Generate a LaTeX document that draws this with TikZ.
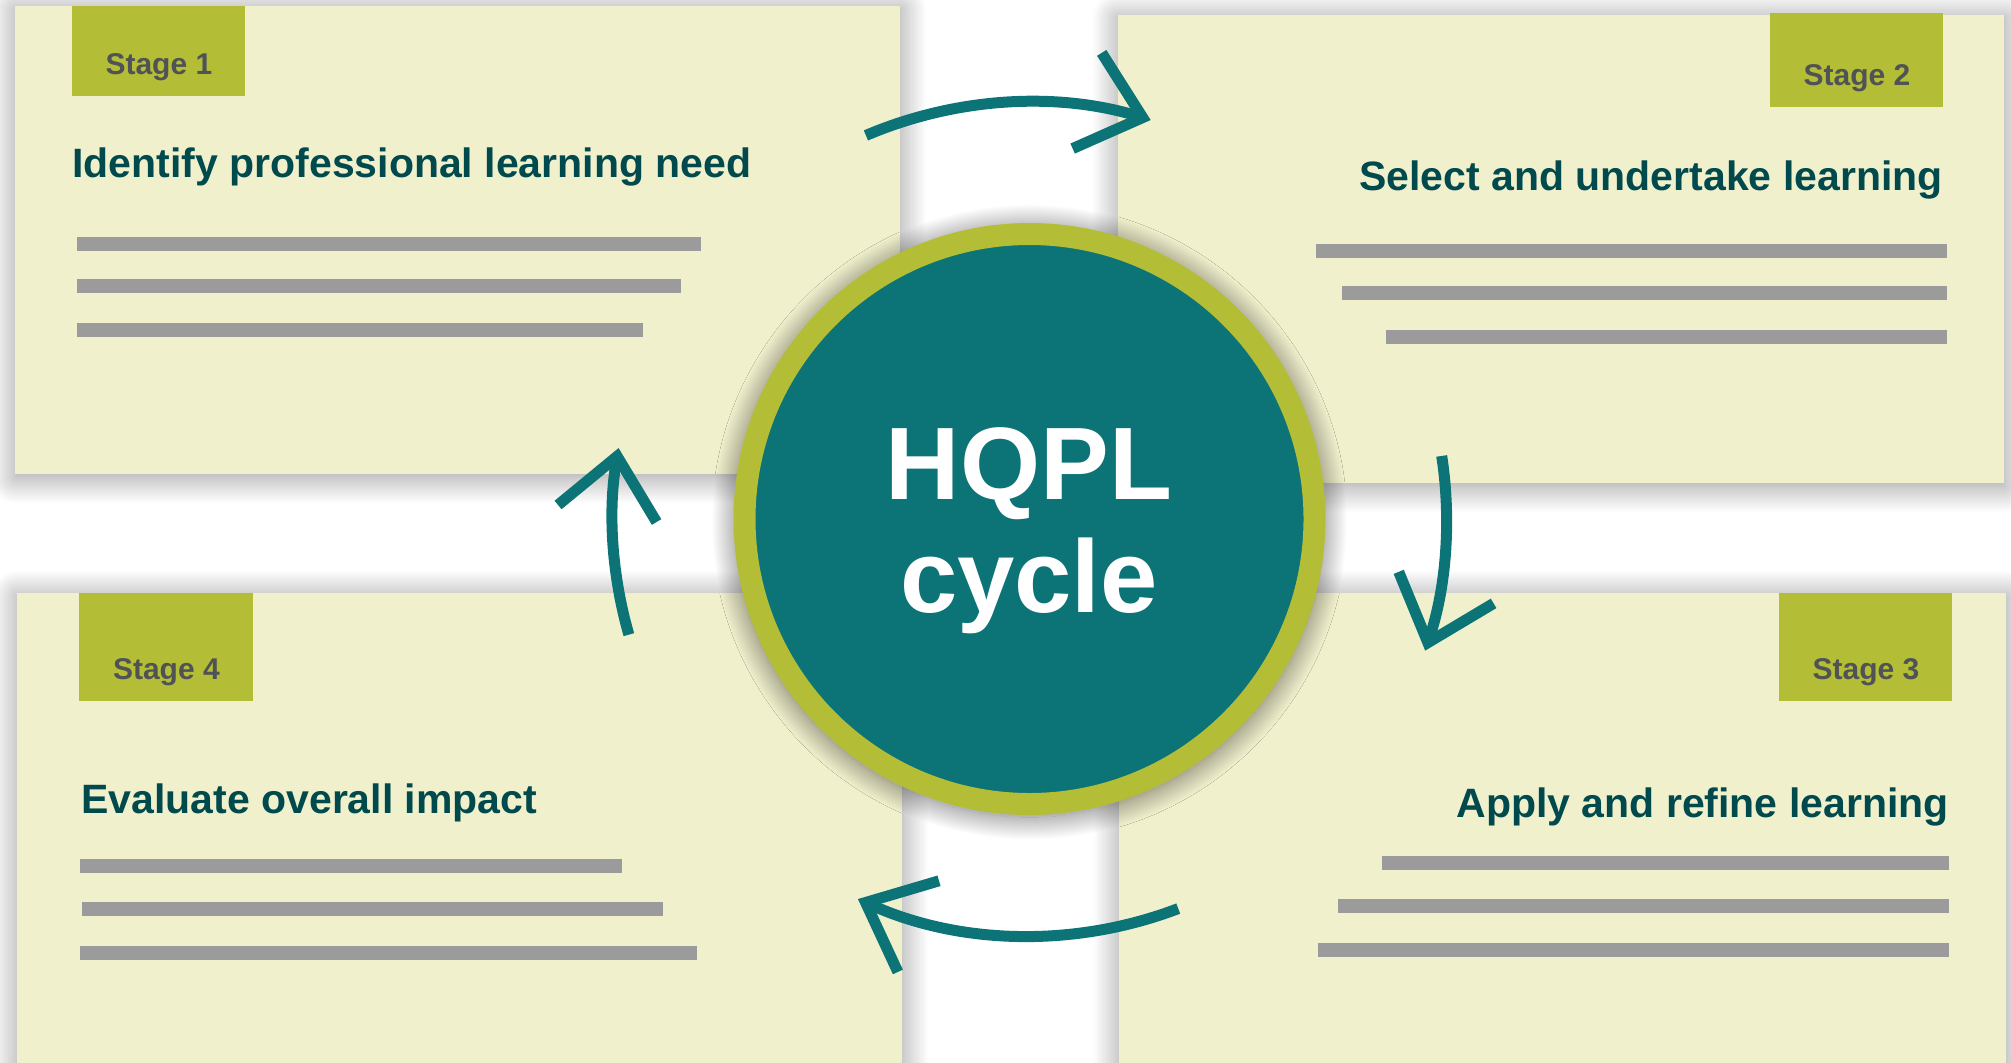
\documentclass[tikz,border=0pt]{standalone}
\usepackage{fontspec}
\setmainfont{Liberation Sans}
\usetikzlibrary{arrows.meta, shadows.blur}

\definecolor{hqcream}{HTML}{F1F0CD}
\definecolor{hqgreen}{HTML}{B3BE36}
\definecolor{hqteal}{HTML}{0C7477}
\definecolor{hqtitle}{HTML}{004A4E}
\definecolor{hqbar}{HTML}{9B9B9B}
\definecolor{hqgray}{HTML}{505256}

\tikzset{
  stagebox/.style={fill=hqcream, inner sep=0pt, anchor=north west,
    blur shadow={shadow xshift=0pt, shadow yshift=-1.5pt, shadow blur radius=13pt,
      shadow blur steps=30, shadow opacity=42}},
  stagetag/.style={fill=hqgreen, inner sep=0pt, anchor=north west},
  tagtext/.style={font=\bfseries\fontsize{15}{18}\selectfont, text=hqgray, anchor=base, inner sep=0pt},
  titletext/.style={font=\bfseries\fontsize{20.5}{24}\selectfont, text=hqtitle, inner sep=0pt},
  hubtext/.style={font=\bfseries\fontsize{51.5}{60}\selectfont, text=white, anchor=base, inner sep=0pt},
  textbar/.style={fill=hqbar},
  cyclearrow/.style={draw=hqteal, line width=5.5pt, -{Straight Barb[length=29pt, width=50pt]}}
}

\begin{document}
\begin{tikzpicture}[x=0.5pt, y=-0.5pt]
\useasboundingbox (0,0) rectangle (2011,1062);
\clip (0,0) rectangle (2011,1062);

% Stage 1
\node[stagebox, minimum width=442.5pt, minimum height=234pt] (box1) at (15,6) {};
\node[stagetag, minimum width=86.5pt, minimum height=45pt] (tag1) at (72,6) {};
\node[tagtext] (lab1) at ([yshift=11pt]tag1.south) {Stage 1};
\node[titletext, anchor=base west] (title1) at (72,177) {Identify professional learning need};

% Stage 2
\node[stagebox, minimum width=443pt, minimum height=234pt] (box2) at (1118,15) {};
\node[stagetag, minimum width=86.5pt, minimum height=47pt] (tag2) at (1770,13) {};
\node[tagtext] (lab2) at ([yshift=11pt]tag2.south) {Stage 2};
\node[titletext, anchor=base east] (title2) at (1943,190) {Select and undertake learning};

% Stage 3
\node[stagebox, minimum width=443.5pt, minimum height=240pt] (box3) at (1119,593) {};
\node[stagetag, minimum width=86.5pt, minimum height=54pt] (tag3) at (1779,593) {};
\node[tagtext] (lab3) at ([yshift=11pt]tag3.south) {Stage 3};
\node[titletext, anchor=base east] (title3) at (1949,817) {Apply and refine learning};

% Stage 4
\node[stagebox, minimum width=442.5pt, minimum height=240pt] (box4) at (17,593) {};
\node[stagetag, minimum width=87pt, minimum height=54pt] (tag4) at (79,593) {};
\node[tagtext] (lab4) at ([yshift=11pt]tag4.south) {Stage 4};
\node[titletext, anchor=base west] (title4) at (81,813) {Evaluate overall impact};

% placeholder text lines
\foreach \xa/\ya/\xb in {77/237/701, 77/279/681, 77/323/643,
    1316/244/1947, 1342/286/1947, 1386/330/1947,
    1382/856/1949, 1338/899/1949, 1318/943/1949,
    80/859/622, 82/902/663, 80/946/697} {
  \fill[textbar] (\xa,\ya) rectangle (\xb,\ya+13.5);
}

% Centre
\node[circle, fill=hqteal, draw=hqgreen, line width=11pt, minimum size=285pt, inner sep=0pt,
  blur shadow={shadow xshift=0pt, shadow yshift=-1.5pt, shadow scale=1.035,
    shadow blur radius=11pt, shadow blur steps=30, shadow opacity=55}] (hub) at (1029.5,519) {};
\node[hubtext] (hq) at (1029,499) {HQPL};
\node[hubtext] (cy) at (1029,612) {cycle};

% Cycle arrows
\foreach \s/\e [count=\i] in {-113.1/-73.1, -8.7/18.4, 69.1/114.3, -196.1/-170.2} {
  \path (hub.center) ++(\s:417) coordinate (arr\i);
  \draw[cyclearrow] (arr\i) arc[start angle=\s, end angle=\e, radius=417];
}
\end{tikzpicture}
\end{document}
